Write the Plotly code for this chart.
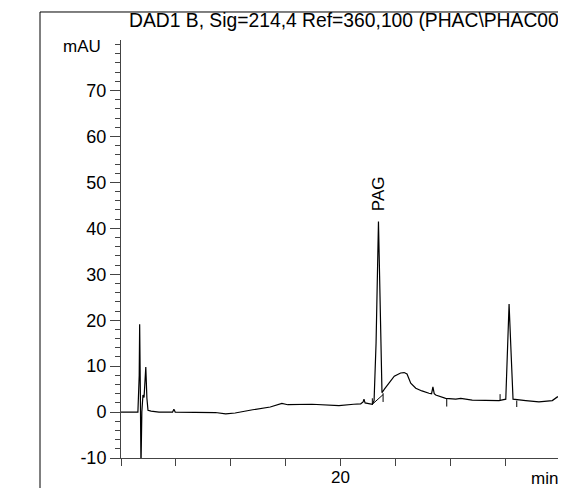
import plotly.graph_objects as go

# Chromatogram trace (time in min, absorbance in mAU)
time_min = [10.00, 10.77, 10.83, 10.85, 10.88, 10.91, 10.95, 11.00, 11.05, 11.13,
            11.18, 11.23, 11.37, 11.73, 12.35, 12.41, 12.47, 13.55, 14.30, 14.77,
            15.20, 16.00, 16.80, 17.33, 17.60, 18.70, 19.93, 20.60, 20.92, 21.03,
            21.07, 21.12, 21.21, 21.45, 21.53, 21.62, 21.73, 21.82, 21.89, 22.00,
            22.21, 22.45, 22.74, 22.90, 23.03, 23.20, 23.43, 23.71, 24.03, 24.15,
            24.21, 24.27, 24.34, 24.79, 25.25, 25.48, 26.00, 26.77, 27.22, 27.53,
            27.60, 27.68, 27.76, 27.86, 28.44, 29.04, 29.65, 29.88, 30.00]
signal_mau = [0.0, 0.0, 8.0, 19.1, 5.0, -12.0, 0.0, 3.7, 3.2, 9.8,
              3.0, 0.4, 0.2, 0.0, 0.0, 0.6, 0.0, 0.0, -0.1, -0.4,
              -0.2, 0.5, 1.1, 1.9, 1.6, 1.7, 1.4, 1.7, 1.8, 2.2,
              2.8, 2.0, 1.9, 1.7, 2.5, 15.0, 41.5, 15.0, 4.2, 5.0,
              6.3, 7.8, 8.5, 8.6, 8.3, 6.3, 5.2, 4.6, 4.1, 4.0,
              5.5, 4.0, 3.7, 3.0, 2.8, 3.0, 2.6, 2.5, 2.5, 2.8,
              14.2, 23.5, 14.2, 2.8, 2.5, 2.2, 2.5, 3.3, 3.4]

# Integration marks (peak start/end ticks and skim baseline)
mark_time = [21.45, 21.45, None, 21.45, 21.94, None, 21.94, 21.94, None,
             24.84, 24.84, None, 27.27, 27.27, None, 28.03, 28.03]
mark_mau = [1.7, 3.0, None, 1.7, 3.8, None, 4.1, 2.2, None,
            2.9, 1.2, None, 2.5, 3.9, None, 2.5, 1.1]

# Axis ticks
x_tick_vals = [10, 12.5, 15, 17.5, 20, 22.5, 25, 27.5, 30]
x_tick_text = ["", "", "", "", "20", "", "", "", ""]
y_tick_vals = [-10, 0, 10, 20, 30, 40, 50, 60, 70]
y_tick_text = ["-10", "0", "10", "20", "30", "40", "50", "60", "70"]

title_text = "DAD1 B, Sig=214,4 Ref=360,100 (PHAC\\PHAC00"
peak_label = "PAG"
peak_time = 21.73
peak_label_y = 43.3

FONT = "Liberation Sans, Arial, sans-serif"
AX = "#444444"

fig = go.Figure()
fig.add_trace(go.Scatter(x=time_min, y=signal_mau, mode="lines",
                         line=dict(color="black", width=1.2), hoverinfo="skip"))
fig.add_trace(go.Scatter(x=mark_time, y=mark_mau, mode="lines",
                         line=dict(color="black", width=1), hoverinfo="skip"))

# page body has an 8px margin, so the figure is 8px smaller and shifted
fig.update_layout(
    width=558, height=480,
    margin=dict(l=113, r=6, t=32, b=30, autoexpand=False),
    paper_bgcolor="white", plot_bgcolor="white",
    showlegend=False,
    font=dict(family=FONT, size=17, color="black"),
    xaxis=dict(range=[10, 30], tickmode="array", tickvals=x_tick_vals,
               ticktext=x_tick_text, ticks="outside", ticklen=7, tickcolor=AX,
               showline=True, linecolor=AX, linewidth=1, showgrid=False,
               zeroline=False, tickfont=dict(size=17), automargin=False,
               ticklabelstandoff=-3),
    yaxis=dict(range=[-10, 81], tickmode="array", tickvals=y_tick_vals,
               ticktext=y_tick_text, ticks="outside", ticklen=10, tickcolor=AX,
               showline=True, linecolor=AX, linewidth=1, showgrid=False,
               zeroline=False, tickfont=dict(size=18), automargin=False,
               minor=dict(dtick=2, tick0=0, ticks="outside", ticklen=5,
                          tickcolor=AX)),
)

# frame lines (report border)
fig.add_shape(type="line", xref="paper", yref="paper", x0=-0.1845, x1=-0.1845,
              y0=1.067, y1=-0.08, line=dict(color="black", width=1))
fig.add_shape(type="line", xref="paper", yref="paper", x0=-0.1845, x1=1.02,
              y0=1.067, y1=1.067, line=dict(color="black", width=1))
fig.add_shape(type="line", xref="paper", yref="paper", x0=1.0, x1=1.0,
              y0=1.067, y1=-0.08, line=dict(color="#555555", width=1))

fig.add_annotation(text=title_text, xref="paper", yref="paper", x=0.0137,
                   y=1.0455, xanchor="left", yanchor="middle", showarrow=False,
                   font=dict(size=19.3, family=FONT))
fig.add_annotation(text="mAU", xref="paper", yref="y", x=-0.04, y=79.5,
                   xanchor="right", yanchor="middle", showarrow=False,
                   font=dict(size=17, family=FONT))
fig.add_annotation(text="min", xref="paper", yref="paper", x=1.0, y=-0.049,
                   xanchor="right", yanchor="middle", showarrow=False,
                   font=dict(size=17, family=FONT))
fig.add_annotation(text=peak_label, x=peak_time, y=peak_label_y, textangle=-90,
                   xanchor="center", yanchor="bottom", showarrow=False,
                   font=dict(size=17, family=FONT))

fig.write_html("out.html")
